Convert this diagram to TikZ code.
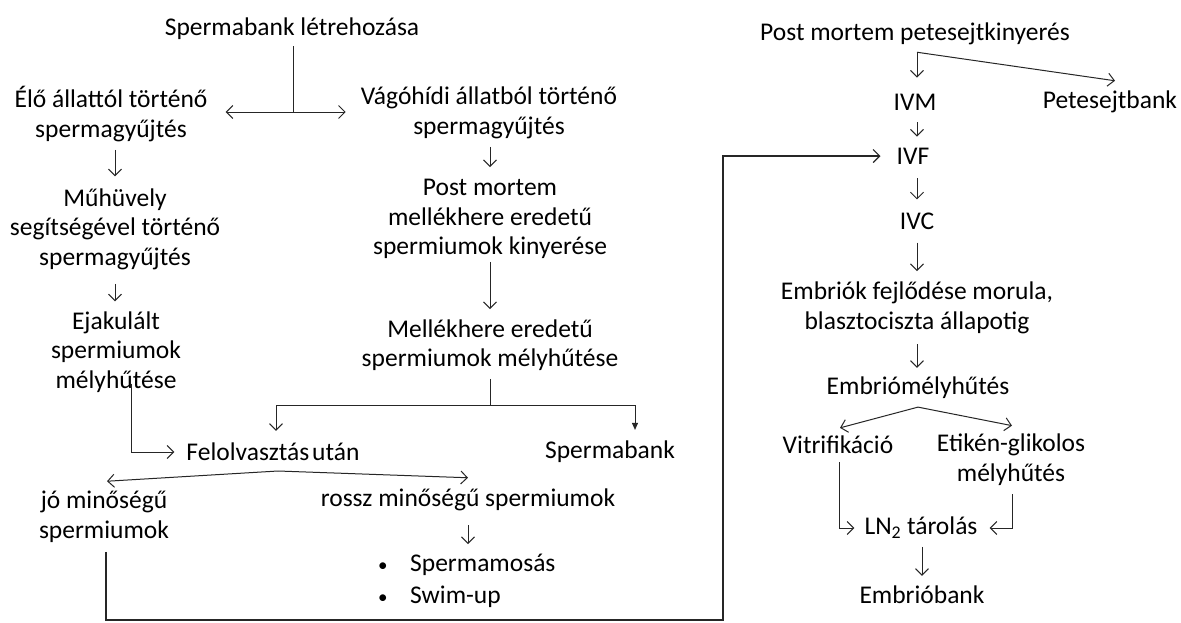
\documentclass[tikz,border=0pt]{standalone}
\usepackage{fontspec}
\setmainfont{Carlito}
\usetikzlibrary{arrows.meta,calc}
\begin{document}
\begin{tikzpicture}[x=1pt,y=-1pt,
  txt/.style={inner sep=0pt, align=center, font=\fontsize{25.5}{29.5}\selectfont, text=black},
  ln/.style={line width=1pt, draw=black!85},
  arr/.style={ln, -{Straight Barb[length=6.5pt,width=13pt]}},
  tri/.style={ln, -{Triangle[length=7pt,width=6pt]}}]
\fill[white] (0,0) rectangle (1181,622);
\useasboundingbox (0,0) rectangle (1181,622);
% left column nodes
\node[txt] (sb) at (292,29) {Spermabank létrehozása};
\node[txt] (elo) at (111,114) {Élő állattól történő\\spermagyűjtés};
\node[txt] (vago) at (489,113) {Vágóhídi állatból történő\\spermagyűjtés};
\node[txt] (muh) at (115,229) {Műhüvely\\segítségével történő\\spermagyűjtés};
\node[txt] (eja) at (116,352) {Ejakulált\\spermiumok\\mélyhűtése};
\node[txt] (pm) at (490,219) {Post mortem\\mellékhere eredetű\\spermiumok kinyerése};
\node[txt] (mell) at (490,345) {Mellékhere eredetű\\spermiumok mélyhűtése};
\node[txt] (felo) at (273,452) {{\spaceskip=3pt plus 1pt Felolvasztás után}};
\node[txt] (spb) at (610,452) {Spermabank};
\node[txt] (jo) at (104,517) {jó minőségű\\spermiumok};
\node[txt] (rossz) at (468,500) {rossz minőségű spermiumok};
\node[txt, align=left, anchor=west, font=\fontsize{25.5}{32}\selectfont] (bul) at (378,581)
  {\makebox[32pt][l]{\fontsize{19}{19}\selectfont•}Spermamosás\\\makebox[32pt][l]{\fontsize{19}{19}\selectfont•}Swim-up};
% right column nodes
\node[txt] (pmp) at (915,34) {Post mortem petesejtkinyerés};
\node[txt] (ivm) at (915,102) {IVM};
\node[txt] (ptb) at (1110,102) {Petesejtbank};
\node[txt] (ivf) at (913,156) {IVF};
\node[txt] (ivc) at (917,221) {IVC};
\node[txt] (emb) at (917,308) {Embriók fejlődése morula,\\blasztociszta állapotig};
\node[txt] (embm) at (918,388) {Embriómélyhűtés};
\node[txt] (vit) at (838,445) {Vitrifikáció};
\node[txt] (eti) at (1011,459.5) {Etikén-glikolos\\mélyhűtés};
\node[txt] (lnt) at (921,528) {LN\textsubscript{2} tárolás};
\node[txt] (eb) at (922,595) {Embrióbank};
% Spermabank split
\coordinate (j1) at (293,112);
\draw[ln, shorten <=6pt] (sb.south -| j1) -- (j1);
\draw[arr] (j1) -- ([xshift=18pt]elo.east |- j1);
\draw[arr] (j1) -- ([xshift=-15pt]vago.west |- j1);
% left chain
\draw[arr, shorten <=8pt, shorten >=12pt] (elo.south -| muh) -- (muh.north);
\draw[arr, shorten <=14pt, shorten >=10pt] (muh.south) -- (muh.south |- eja.north);
\draw[arr] ([xshift=15pt,yshift=9pt]eja.south) |- ([xshift=-12pt]felo.west);
% middle chain
\draw[arr, shorten <=8pt, shorten >=12pt] (vago.south -| pm) -- (pm.north);
\draw[arr, shorten <=3pt, shorten >=10pt] (pm.south) -- (pm.south |- mell.north);
\coordinate (j2) at (490,405);
\draw[ln, shorten <=8pt] (mell.south) -- (mell.south |- j2);
\draw[arr] (j2) -| ([xshift=3pt,yshift=12pt]felo.north);
\draw[tri] (j2) -| ([xshift=25pt,yshift=11pt]spb.north);
% thaw split
\coordinate (a1) at (278,471);
\draw[arr] (a1) -- ([xshift=3pt,yshift=10pt]jo.north);
\draw[arr] (a1) -- ([yshift=11pt]rossz.north);
\draw[arr, shorten <=14pt, shorten >=10pt] (rossz.south) -- (rossz.south |- bul.north);
% big connector to IVF
\coordinate (b1) at (106,620);
\coordinate (b2) at (723,620);
\draw[arr, line width=1.2pt, shorten <=9pt] (jo.south -| b1) -- (b1) -- (b2) |- ([xshift=-16pt]ivf.west);
% right chain
\coordinate (c1) at ([xshift=2pt,yshift=-7pt]pmp.south);
\draw[arr] (c1) -- ([xshift=2pt,yshift=16pt]ivm.north);
\draw[arr] (c1) -- ([xshift=5pt,yshift=10pt]ptb.north);
\draw[arr, shorten <=12pt, shorten >=11pt] ([xshift=2pt]ivm.south) -- ([xshift=2pt]ivm.south |- ivf.north);
\draw[arr, shorten <=14pt, shorten >=13pt] ([xshift=4pt]ivf.south) -- ([xshift=4pt]ivf.south |- ivc.north);
\draw[arr, shorten <=13pt, shorten >=11pt] (ivc.south) -- (ivc.south |- emb.north);
\draw[arr, shorten <=10pt, shorten >=9pt] (emb.south) -- (emb.south |- embm.north);
\coordinate (a2) at ([yshift=-8pt]embm.south);
\draw[arr] (a2) -- ([xshift=2pt,yshift=8pt]vit.north);
\draw[arr] (a2) -- ([xshift=1pt,yshift=8pt]eti.north);
\draw[arr] ([xshift=1pt,yshift=-8pt]vit.south) |- ([xshift=-10pt]lnt.west);
\draw[arr] ([xshift=1pt,yshift=-9pt]eti.south) |- ([xshift=12pt]lnt.east);
\draw[arr, shorten <=8pt, shorten >=10pt] ([xshift=1pt]lnt.south) -- ([xshift=1pt]lnt.south |- eb.north);
\end{tikzpicture}
\end{document}
